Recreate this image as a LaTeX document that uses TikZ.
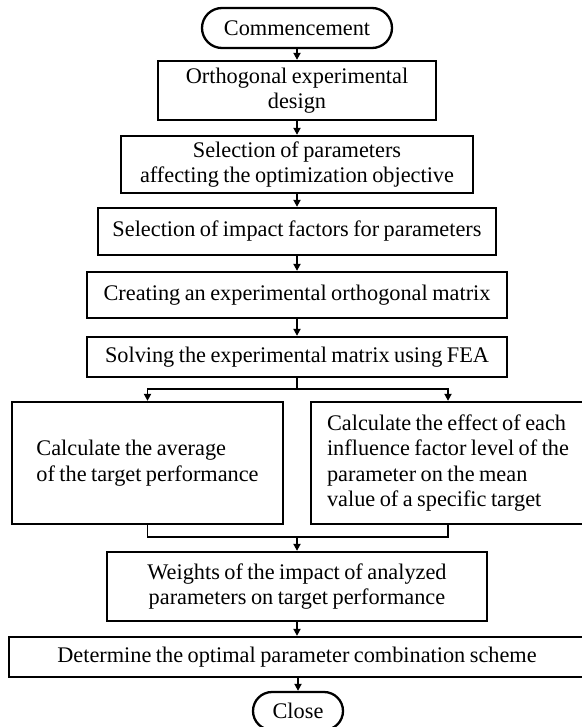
\documentclass[tikz,border=0pt]{standalone}
\usepackage{fontspec}
\setmainfont[WordSpace=0.8]{Liberation Serif}
\usetikzlibrary{arrows.meta,shapes.misc}
\begin{document}
\begin{tikzpicture}[x=1pt,y=-1pt,
  every node/.style={font=\fontsize{22.3}{25.5}\selectfont},
  boxn/.style={draw,line width=2.3pt,rectangle,inner sep=0pt,align=center},
  pill/.style={draw,line width=2.3pt,rounded rectangle,inner sep=0pt,align=center},
  conn/.style={line width=1.8pt},
  arr/.style={line width=1.8pt,-{Triangle[length=7pt,width=7pt]}}]
\useasboundingbox (0,0) rectangle (581,727);
\node[pill,minimum width=190pt,minimum height=40pt] (start) at (297,28) {Commencement};
\node[boxn,minimum width=278pt,minimum height=59pt] (b2) at (297,90.5) {Orthogonal experimental\\design};
\node[boxn,minimum width=352pt,minimum height=57pt] (b3) at (297,164.5) {Selection of parameters\\affecting the optimization objective};
\node[boxn,minimum width=398pt,minimum height=47pt] (b4) at (297,231.5) {Selection of impact factors for parameters};
\node[boxn,minimum width=420pt,minimum height=46pt] (b5) at (297,295) {Creating an experimental orthogonal matrix};
\node[boxn,minimum width=420pt,minimum height=40pt] (b6) at (297,357) {Solving the experimental matrix using FEA};
\node[boxn,minimum width=271pt,minimum height=122pt,align=left] (lbox) at (147.5,463) {Calculate the average\\of the target performance};
\node[boxn,minimum width=274pt,minimum height=122pt,align=left] (rbox) at (448,463) {Calculate the effect of each\\influence factor level of the\\parameter on the mean\\value of a specific target};
\node[boxn,minimum width=380pt,minimum height=69pt] (w) at (297,586.5) {Weights of the impact of analyzed\\parameters on target performance};
\node[boxn,minimum width=576pt,minimum height=40pt] (d) at (297,657) {Determine the optimal parameter combination scheme};
\node[pill,minimum width=90pt,minimum height=38pt] (close) at (298,711) {Close};
\coordinate (split) at (297,389);
\coordinate (join) at (297,537);
\draw[arr] (start) -- (b2);
\draw[arr] (b2) -- (b3);
\draw[arr] (b3) -- (b4);
\draw[arr] (b4) -- (b5);
\draw[arr] (b5) -- (b6);
\draw[conn] (b6) -- (split);
\draw[arr] (split) -| (lbox.north);
\draw[arr] (split) -| (rbox.north);
\draw[conn] (lbox.south) |- (join) -| (rbox.south);
\draw[arr] (join) -- (w);
\draw[arr] (w) -- (d);
\draw[arr] (d.south -| close.north) -- (close);
\end{tikzpicture}
\end{document}
